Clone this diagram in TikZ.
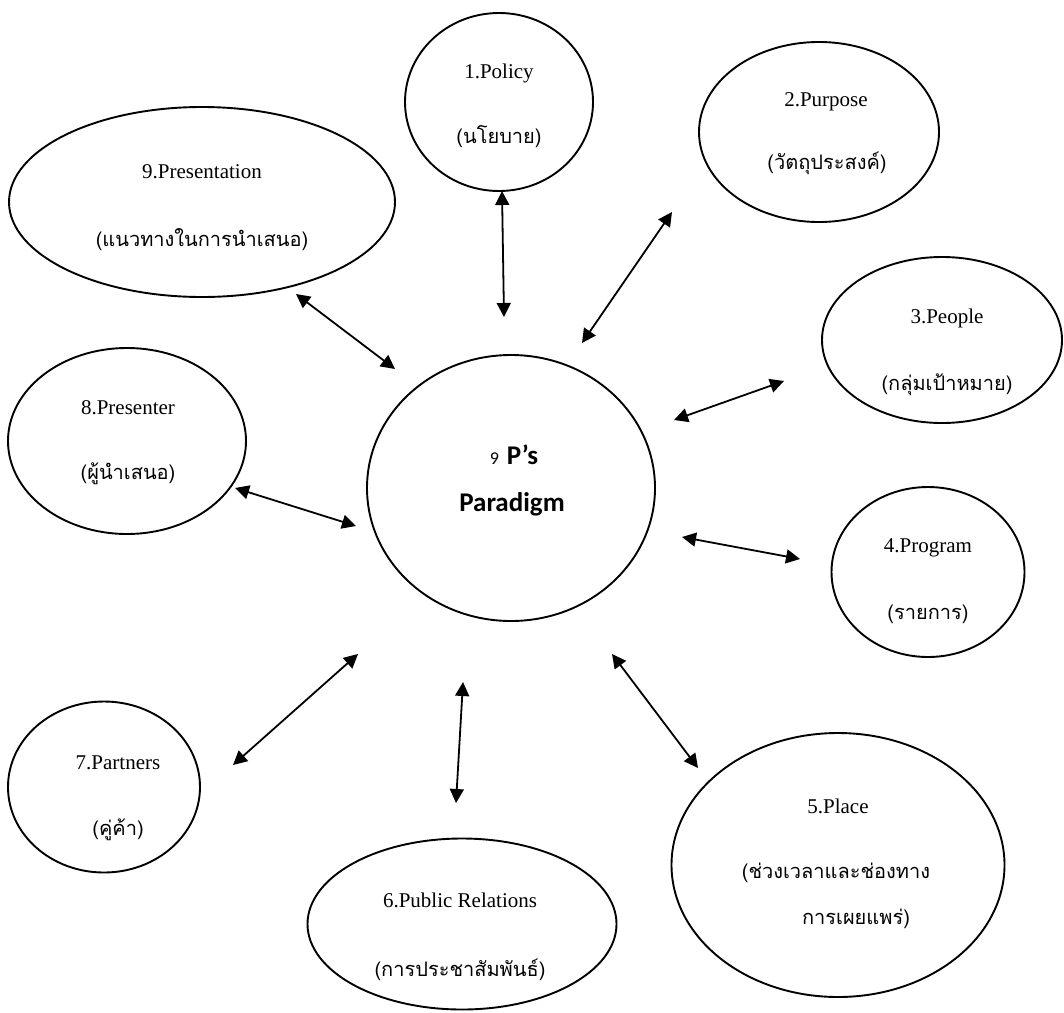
\documentclass[tikz,border=0pt]{standalone}
\usepackage{fontspec}
\setmainfont{Liberation Serif}
\newfontfamily\thaifont[Script=Thai]{Loma}
\newfontfamily\calfont{Carlito}
\usetikzlibrary{arrows.meta,shapes.geometric}
\begin{document}
\begin{tikzpicture}[x=1pt,y=-1pt,
  ell/.style={draw=black,line width=1.9pt,ellipse,inner sep=0pt},
  en/.style={font=\fontsize{21}{24}\selectfont,inner sep=0pt},
  th/.style={font=\thaifont\fontsize{20}{24}\selectfont,inner sep=0pt},
  biarrow/.style={line width=1.8pt,{Triangle[length=14pt,width=14pt]}-{Triangle[length=14pt,width=14pt]}}]
\useasboundingbox (0,0) rectangle (1064,1012);
% ellipses
\node[ell,minimum width=188pt,minimum height=178pt] (pol) at (499,102) {};
\node[ell,minimum width=240pt,minimum height=180pt] (pur) at (819,132) {};
\node[ell,minimum width=240pt,minimum height=166pt] (peo) at (942,340) {};
\node[ell,minimum width=193pt,minimum height=170pt] (prog) at (928,572) {};
\node[ell,minimum width=333pt,minimum height=264pt] (plc) at (838,865) {};
\node[ell,minimum width=309pt,minimum height=171pt] (pr) at (462,924) {};
\node[ell,minimum width=192pt,minimum height=171pt] (par) at (104,787) {};
\node[ell,minimum width=238pt,minimum height=186pt] (pst) at (127,441) {};
\node[ell,minimum width=386pt,minimum height=190pt] (pstn) at (202,202) {};
\node[ell,minimum width=288pt,minimum height=266pt] (cen) at (511,488) {};
% texts
\node[en] (t1) at (499,73) {1.Policy};
\node[th] (u1) at (499,137) {(นโยบาย)};
\node[en] (t2) at (826,102) {2.Purpose};
\node[th] (u2) at (827,163) {(วัตถุประสงค์)};
\node[en] (t3) at (947,318) {3.People};
\node[th] (u3) at (947,385) {(กลุ่มเป้าหมาย)};
\node[en] (t4) at (928,548) {4.Program};
\node[th] (u4) at (928,614) {(รายการ)};
\node[en] (t5) at (838,806) {5.Place};
\node[th] (u5) at (836,873) {(ช่วงเวลาและช่องทาง};
\node[th] (v5) at (856,919) {การเผยแพร่)};
\node[en] (t6) at (460,900) {6.Public Relations};
\node[th] (u6) at (460,970) {(การประชาสัมพันธ์)};
\node[en] (t7) at (118,763) {7.Partners};
\node[th] (u7) at (118,830) {(คู่ค้า)};
\node[en] (t8) at (128,408) {8.Presenter};
\node[th] (u8) at (128,474) {(ผู้นำเสนอ)};
\node[en] (t9) at (202,172) {9.Presentation};
\node[th] (u9) at (202,240) {(แนวทางในการนำเสนอ)};
\node[inner sep=0pt,anchor=base] (c1) at (514,464) {{\calfont\fontsize{18}{22}\selectfont 9}\hspace{8pt}{\calfont\bfseries\fontsize{27}{30}\selectfont P’s}};
\node[inner sep=0pt,font=\calfont\bfseries\fontsize{27}{30}\selectfont] (c2) at (512,504) {Paradigm};
% arrow ends
\coordinate (s1) at (502,191); \coordinate (e1) at (504,317);
\coordinate (s2) at (672,212); \coordinate (e2) at (582,343);
\coordinate (s3) at (784,381); \coordinate (e3) at (674,420);
\coordinate (s4) at (682,537); \coordinate (e4) at (800,559);
\coordinate (s5) at (612,654); \coordinate (e5) at (698,768);
\coordinate (s6) at (463,682); \coordinate (e6) at (456,803);
\coordinate (s7) at (358,654); \coordinate (e7) at (233,765);
\coordinate (s8) at (356,526); \coordinate (e8) at (235,488);
\coordinate (s9) at (296,294); \coordinate (e9) at (395,369);
\foreach \i in {1,...,9}{\draw[biarrow] (s\i) -- (e\i);}
\end{tikzpicture}
\end{document}
